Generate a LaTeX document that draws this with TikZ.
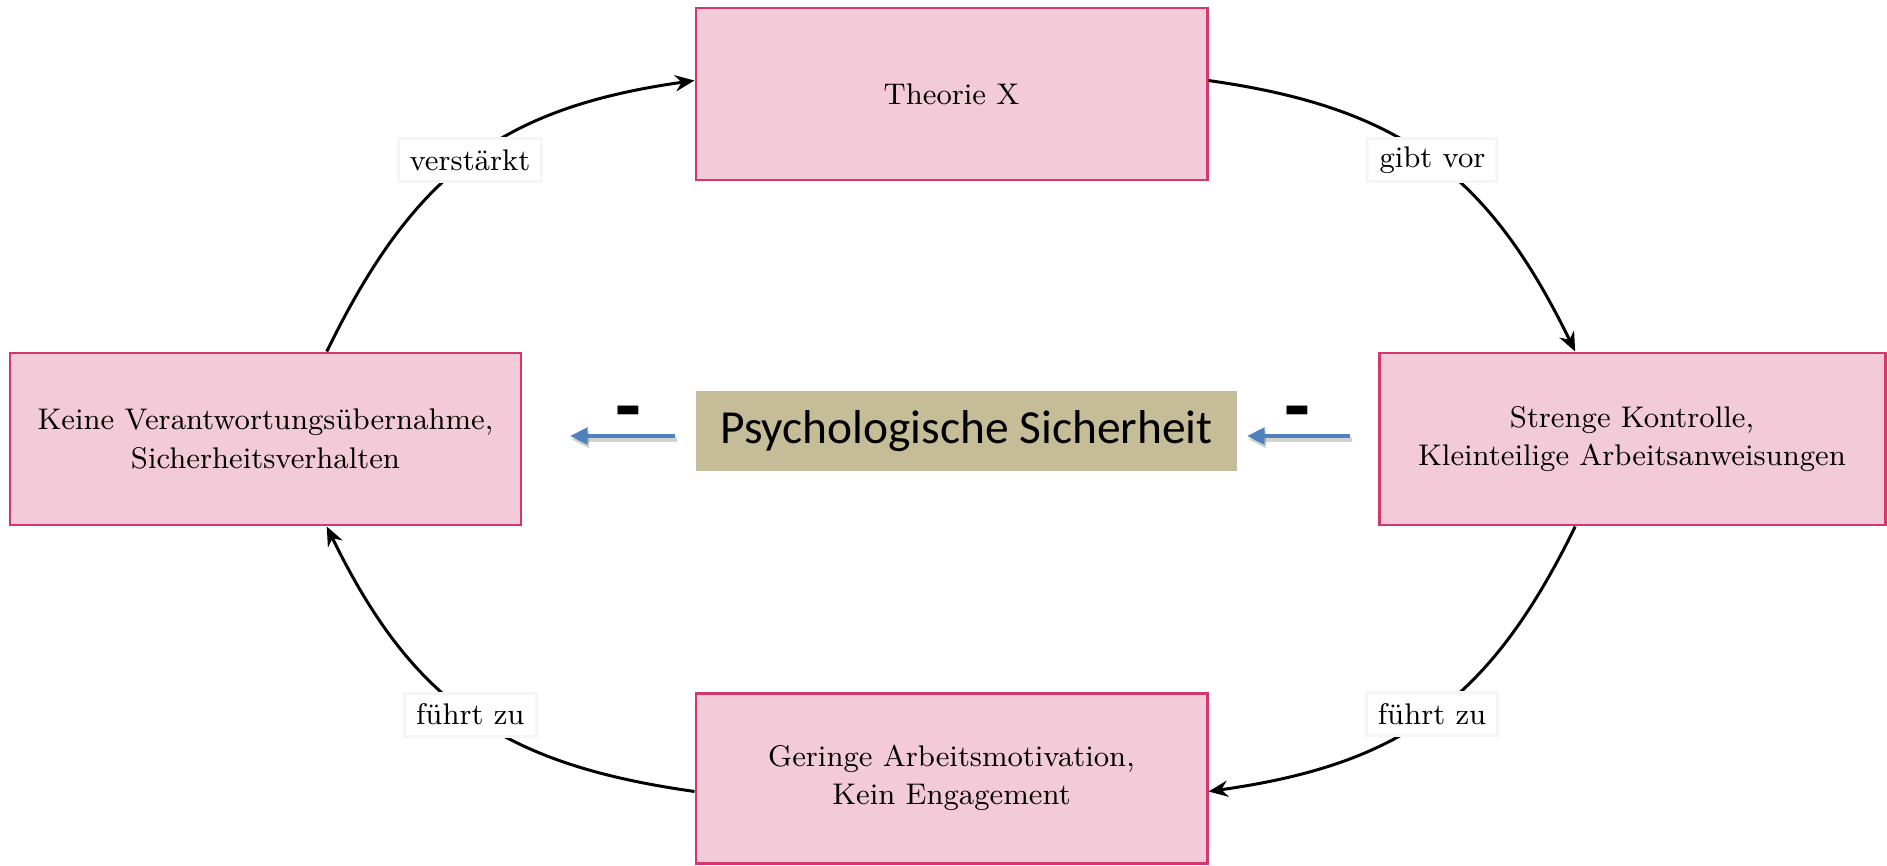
\documentclass[tikz,border=0pt]{standalone}
\usepackage{fontspec}
\newfontfamily\calibrifont{Carlito}
\definecolor{PINK_Color}{RGB}{242,202,216}
\definecolor{RED_Color}{RGB}{212,55,110}
\definecolor{TAN_Color}{RGB}{196,189,151}
\definecolor{BLUE_Color}{RGB}{79,129,189}
\usetikzlibrary{positioning, arrows.meta, calc}
\tikzset{
    loop box/.style={rectangle, draw=RED_Color, line width=0.85pt, fill=PINK_Color,
        minimum width=5.11cm, minimum height=1.72cm, inner sep=0, align=center,
        font=\fontsize{8.5}{11}\selectfont}, % the four pink boxes of the cycle
    edge label/.style={fill=white, draw=gray!8, inner xsep=3.3pt, inner ysep=0,
        minimum height=0.43cm, font=\fontsize{8.5}{11}\selectfont},
    loop arrow/.style={line width=0.85pt, -{Stealth[length=5.5pt,width=4.6pt]}},
    %safety arrows in the middle
    minus arrow/.style={line width=1.4pt, draw=BLUE_Color, -{Triangle[length=5pt,width=4.6pt]}},
    arrow shadow/.style={minus arrow, draw=black, opacity=0.18, transform canvas={shift={(0.015,-0.035)}}},
    minus sign/.style={inner sep=0, anchor=base, font=\calibrifont\bfseries\fontsize{24}{24}\selectfont},
    }

\begin{document}
\begin{tikzpicture}

\fill[white] (0,0) rectangle (18.87,8.65);
\useasboundingbox (0,0) rectangle (18.87,8.65);

\node[loop box] (theo) at (9.515,7.71) {Theorie X};
\node[loop box, minimum width=5.06cm] (streng) at (16.32,4.26) {Strenge Kontrolle,\\Kleinteilige Arbeitsanweisungen};
\node[loop box, minimum height=1.70cm] (gering) at (9.515,0.87) {Geringe Arbeitsmotivation,\\Kein Engagement};
\node[loop box] (kein) at (2.655,4.26) {Keine Verantwortungsübernahme,\\Sicherheitsverhalten};

\node[fill=TAN_Color, minimum width=5.41cm, minimum height=0.80cm, inner sep=0,
      font=\calibrifont\fontsize{13.5}{16}\selectfont] (psy) at (9.665,4.34) {Psychologische Sicherheit};

\draw[loop arrow] (kein.55) to[out=64,in=188,looseness=1.1] node[edge label] {verstärkt} (theo.177);
\draw[loop arrow] (theo.3) to[out=-8,in=116,looseness=1.1] node[edge label] {gibt vor} (streng.123);
\draw[loop arrow] (streng.-123) to[out=-116,in=8,looseness=1.1] node[edge label] {führt zu} (gering.-3);
\draw[loop arrow] (gering.183) to[out=172,in=-64,looseness=1.1] node[edge label] {führt zu} (kein.-55);

\coordinate (l1) at (6.75,4.29);
\coordinate (l2) at (5.70,4.29);
\coordinate (r1) at (13.50,4.29);
\coordinate (r2) at (12.47,4.29);
\draw[arrow shadow] (l1) -- (l2);
\draw[arrow shadow] (r1) -- (r2);
\draw[minus arrow] (l1) -- (l2);
\draw[minus arrow] (r1) -- (r2);
\node[minus sign] (m1) at (6.28,4.31) {-};
\node[minus sign] (m2) at (12.97,4.31) {-};

\end{tikzpicture}
\end{document}
